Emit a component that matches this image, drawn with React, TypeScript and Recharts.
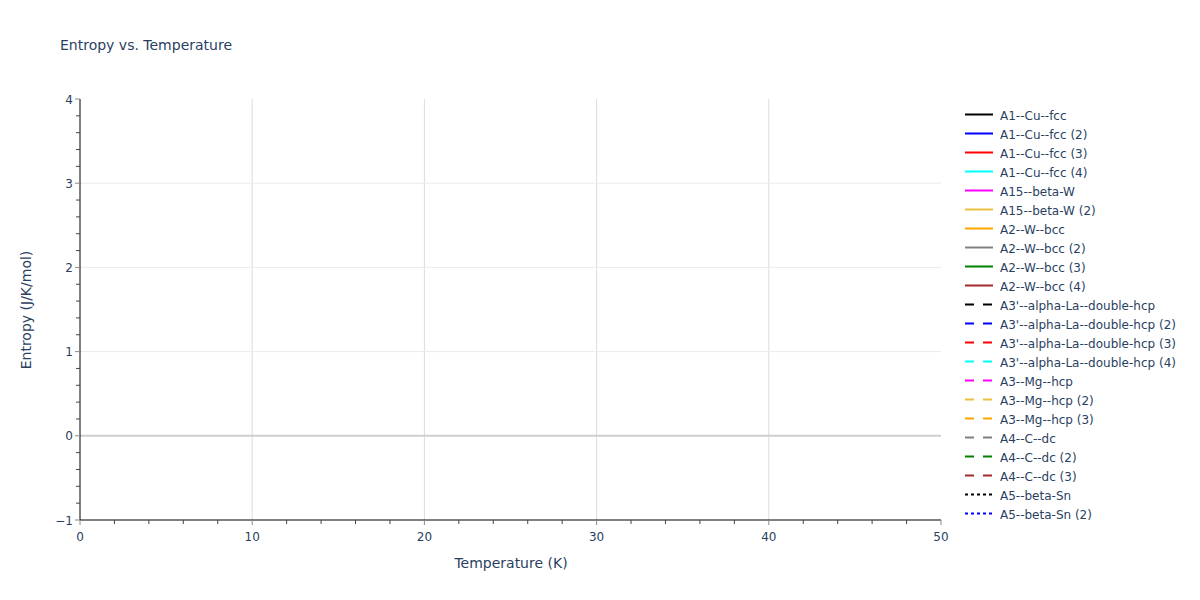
import React from 'react';
import {
  LineChart,
  Line,
  XAxis,
  YAxis,
  CartesianGrid,
  ReferenceLine,
} from 'recharts';

// series shown in the legend (none of them has points inside 0-50 K)
const seriesNames = [
  'A1--Cu--fcc',
  'A1--Cu--fcc (2)',
  'A1--Cu--fcc (3)',
  'A1--Cu--fcc (4)',
  'A15--beta-W',
  'A15--beta-W (2)',
  'A2--W--bcc',
  'A2--W--bcc (2)',
  'A2--W--bcc (3)',
  'A2--W--bcc (4)',
  "A3'--alpha-La--double-hcp",
  "A3'--alpha-La--double-hcp (2)",
  "A3'--alpha-La--double-hcp (3)",
  "A3'--alpha-La--double-hcp (4)",
  'A3--Mg--hcp',
  'A3--Mg--hcp (2)',
  'A3--Mg--hcp (3)',
  'A4--C--dc',
  'A4--C--dc (2)',
  'A4--C--dc (3)',
  'A5--beta-Sn',
  'A5--beta-Sn (2)',
];

const seriesColors = [
  '#000000', '#0000ff', '#ff0000', '#00ffff', '#ff00ff',
  '#ebc03f', '#ffa500', '#808080', '#008000', '#a52a2a',
  '#000000', '#0000ff', '#ff0000', '#00ffff', '#ff00ff',
  '#ebc03f', '#ffa500', '#808080', '#008000', '#a52a2a',
  '#000000', '#0000ff',
];

const seriesDash = [
  'solid', 'solid', 'solid', 'solid', 'solid',
  'solid', 'solid', 'solid', 'solid', 'solid',
  'dash', 'dash', 'dash', 'dash', 'dash',
  'dash', 'dash', 'dash', 'dash', 'dash',
  'dot', 'dot',
];

// temperature samples and entropy values: empty in the visible window
const temperatures: number[] = [];
const entropyValues: number[][] = [
  [], [], [], [], [], [], [], [], [], [], [],
  [], [], [], [], [], [], [], [], [], [], [],
];

const xTicks = [0, 2, 4, 6, 8, 10, 12, 14, 16, 18, 20, 22, 24, 26, 28, 30, 32, 34, 36, 38, 40, 42, 44, 46, 48, 50];
const yTicks = [-1, -0.8, -0.6, -0.4, -0.2, 0, 0.2, 0.4, 0.6, 0.8, 1, 1.2, 1.4, 1.6, 1.8, 2, 2.2, 2.4, 2.6, 2.8, 3, 3.2, 3.4, 3.6, 3.8, 4];
const xGrid = [10, 20, 30, 40];
const yGrid = [1, 2, 3];

const FONT = '"DejaVu Sans", verdana, arial, sans-serif';
const TEXT = '#2a3f5f';

const dashArray = (d: string) => (d === 'dash' ? '9 9' : d === 'dot' ? '3 3' : undefined);

const chartData = temperatures.map((t, i) => {
  const row: Record<string, number> = { T: t };
  seriesNames.forEach((name, s) => {
    row[name] = entropyValues[s][i];
  });
  return row;
});

const fmt = (v: number) => (v < 0 ? '\u2212' + Math.abs(v) : String(v));

const XTick = (props: any) => {
  const { x, y, payload } = props;
  const major = payload.value % 10 === 0;
  return (
    <g>
      <line x1={x} x2={x} y1={y} y2={y + (major ? 5 : 4)} stroke={major ? '#8a8a8a' : '#444'} strokeWidth={1} />
      {major && (
        <text x={x} y={y + 21} textAnchor="middle" fill={TEXT} fontSize={12} fontFamily={FONT}>
          {fmt(payload.value)}
        </text>
      )}
    </g>
  );
};

const YTick = (props: any) => {
  const { x, y, payload } = props;
  const major = Number.isInteger(Math.round(payload.value * 1000) / 1000);
  return (
    <g>
      <line x1={x} x2={x - (major ? 5 : 4)} y1={y} y2={y} stroke={major ? '#8a8a8a' : '#444'} strokeWidth={1} />
      {major && (
        <text x={x - 7} y={y + 4.5} textAnchor="end" fill={TEXT} fontSize={12} fontFamily={FONT}>
          {fmt(payload.value)}
        </text>
      )}
    </g>
  );
};

export default function App() {
  return (
    <div style={{ position: 'absolute', left: 0, top: 0, width: 1200, height: 600, background: '#fff', fontFamily: FONT }}>
      <div style={{ position: 'absolute', left: 60, top: 37, fontSize: 14, color: TEXT, whiteSpace: 'nowrap' }}>
        Entropy vs. Temperature
      </div>
      <LineChart
        width={1200}
        height={600}
        data={chartData}
        margin={{ top: 99, right: 259, bottom: 50, left: 0 }}
      >
        <CartesianGrid vertical horizontal={false} verticalValues={xGrid} stroke="#dcdcdc" />
        <CartesianGrid vertical={false} horizontal horizontalValues={yGrid} stroke="#ebebeb" />
        <ReferenceLine y={0} stroke="#cfcfcf" strokeWidth={2} />
        {seriesNames.map((name, i) => (
          <Line
            key={name}
            dataKey={name}
            name={name}
            stroke={seriesColors[i]}
            strokeWidth={2}
            strokeDasharray={dashArray(seriesDash[i])}
            dot={false}
            isAnimationActive={false}
          />
        ))}
        <XAxis
          dataKey="T"
          type="number"
          domain={[0, 50]}
          ticks={xTicks}
          interval={0}
          height={30}
          tickSize={0}
          tickMargin={0}
          tickLine={false}
          tick={XTick}
          axisLine={{ stroke: '#000', strokeWidth: 1 }}
          allowDataOverflow
        />
        <YAxis
          type="number"
          domain={[-1, 4]}
          ticks={yTicks}
          interval={0}
          width={80}
          tickSize={0}
          tickMargin={0}
          tickLine={false}
          tick={YTick}
          axisLine={{ stroke: '#000', strokeWidth: 1 }}
          allowDataOverflow
        />
      </LineChart>
      <div
        style={{
          position: 'absolute',
          left: 411,
          top: 555,
          width: 200,
          textAlign: 'center',
          fontSize: 14,
          color: TEXT,
          whiteSpace: 'nowrap',
        }}
      >
        Temperature (K)
      </div>
      <div
        style={{
          position: 'absolute',
          left: 26,
          top: 310,
          transform: 'translate(-50%, -50%) rotate(-90deg)',
          fontSize: 14,
          color: TEXT,
          whiteSpace: 'nowrap',
        }}
      >
        Entropy (J/K/mol)
      </div>
      <div style={{ position: 'absolute', left: 964, top: 105 }}>
        {seriesNames.map((name, i) => (
          <div key={name} style={{ display: 'flex', alignItems: 'center', height: 19 }}>
            <svg width={36} height={19} style={{ display: 'block' }}>
              <line
                x1={1}
                x2={29}
                y1={9.5}
                y2={9.5}
                stroke={seriesColors[i]}
                strokeWidth={2}
                strokeDasharray={dashArray(seriesDash[i])}
              />
            </svg>
            <span style={{ fontSize: 12, color: TEXT, whiteSpace: 'nowrap', position: 'relative', top: 1 }}>{name}</span>
          </div>
        ))}
      </div>
    </div>
  );
}
